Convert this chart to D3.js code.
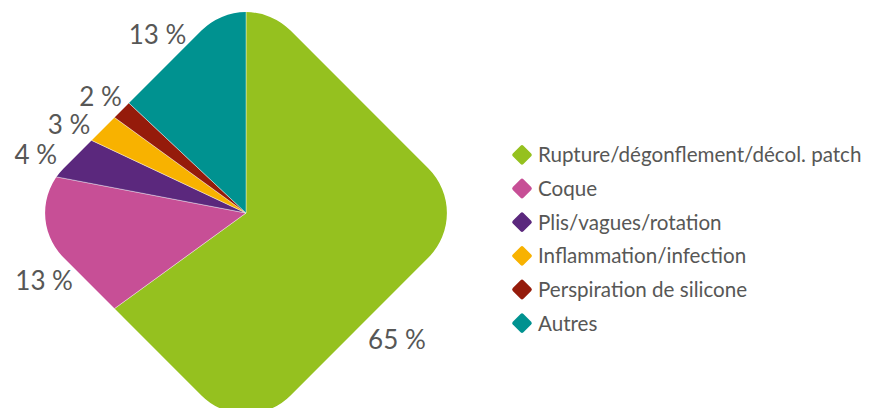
<!DOCTYPE html>
<html>
<head>
<meta charset="utf-8">
<script src="https://cdn.jsdelivr.net/npm/d3@7"></script>
<style>
  body { margin: 0; background: #fff; }
  text { font-family: Lato, "Open Sans", sans-serif; fill: #575756; }
</style>
</head>
<body>
<div id="chart"></div>
<script>
// data
const categories = [
  "Rupture/dégonflement/décol. patch",
  "Coque",
  "Plis/vagues/rotation",
  "Inflammation/infection",
  "Perspiration de silicone",
  "Autres"
];
const values = [65, 13, 4, 3, 2, 13];
const colors = ["#95c11f", "#c74f96", "#5b287d", "#f8b200", "#951b0b", "#009290"];

// label tweaks (degrees from slice middle, radius)
const labelShift = [13, -6, -2.6, -4, -1, -3];
const labelRad = [197, 213, 218, 198, 186, 199];

function init() {
    const width = 870, height = 408;
    const cx = 246, cy = 213;
    const half = 227;          // half diagonal of the square before rounding
    const side = half * Math.SQRT2;
    const corner = 63;

    const svg = d3.select("#chart")
        .append("svg")
        .attr("width", width)
        .attr("height", height);

    // rounded diamond clip
    svg.append("clipPath")
        .attr("id", "diamond")
        .append("rect")
        .attr("x", -side / 2)
        .attr("y", -side / 2)
        .attr("width", side)
        .attr("height", side)
        .attr("rx", corner)
        .attr("transform", "rotate(45)");

    const g = svg.append("g")
        .attr("transform", `translate(${cx},${cy})`);

    const pie = d3.pie().sort(null).value(d => d);
    const arcs = pie(values);

    const arc = d3.arc().innerRadius(0).outerRadius(230);

    g.append("g")
        .attr("clip-path", "url(#diamond)")
        .selectAll("path")
        .data(arcs)
        .join("path")
        .attr("d", arc)
        .attr("fill", (d, i) => colors[i])
        .attr("stroke", "#fff")
        .attr("stroke-width", 0.4);

    // percentage labels
    g.selectAll("text.pct")
        .data(arcs)
        .join("text")
        .attr("class", "pct")
        .attr("transform", (d, i) => {
            const a = (d.startAngle + d.endAngle) / 2 + labelShift[i] * Math.PI / 180;
            const r = labelRad[i];
            return `translate(${r * Math.sin(a)},${-r * Math.cos(a)})`;
        })
        .attr("text-anchor", "middle")
        .attr("dy", "0.36em")
        .style("font-size", "26px")
        .text(d => d.data + " %");

    // legend
    const y = d3.scaleBand()
        .domain(categories)
        .range([138, 340]);

    const legend = svg.append("g")
        .selectAll("g")
        .data(categories)
        .join("g")
        .attr("transform", d => `translate(522,${y(d) + y.bandwidth() / 2})`);

    legend.append("rect")
        .attr("x", -7.5)
        .attr("y", -7.5)
        .attr("width", 15)
        .attr("height", 15)
        .attr("rx", 2)
        .attr("transform", "rotate(45)")
        .attr("fill", (d, i) => colors[i]);

    legend.append("text")
        .attr("x", 16)
        .attr("dy", "0.36em")
        .style("font-size", "20.6px")
        .text(d => d);
}

window.onload = init;
</script>
</body>
</html>
